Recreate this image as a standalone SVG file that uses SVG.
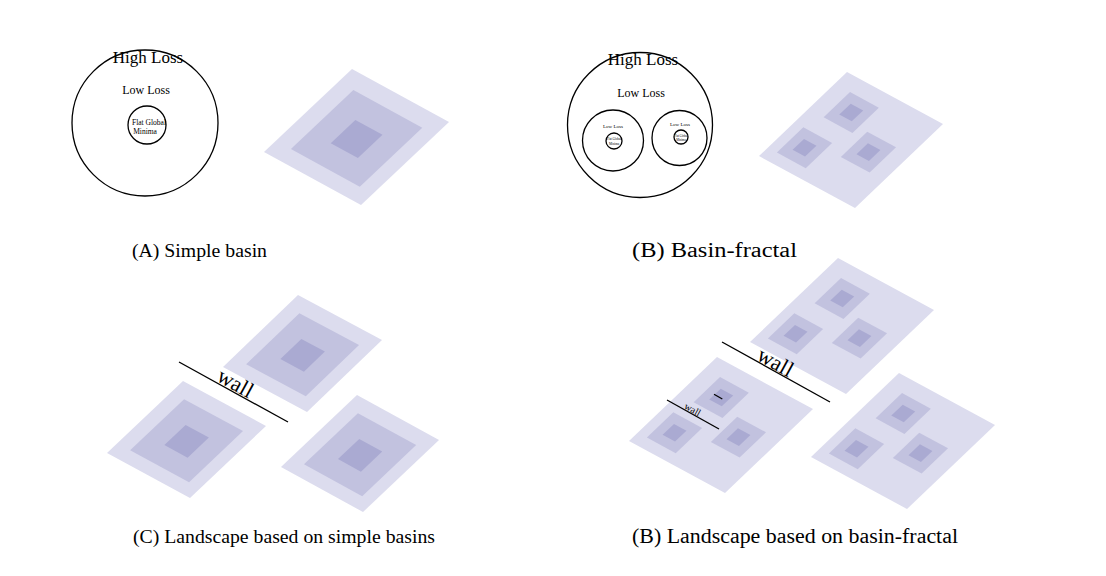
<svg xmlns="http://www.w3.org/2000/svg" xmlns:xlink="http://www.w3.org/1999/xlink" width="1106" height="576" viewBox="0 0 1106 576">
<style>
text{font-family:"Liberation Serif","Times New Roman",serif;fill:#000}
.c{text-anchor:middle}
.ring{fill:none;stroke:#000;stroke-width:1.3}
.wall{stroke:#000;stroke-width:1.3;fill:none}
.l1{fill:#dcdcee}
.l2{fill:#c2c2df}
.l3{fill:#aaaad2}
.cap{font-size:19.7px}
.capR{font-size:20.5px}
</style>
<defs>
<g id="simple">
<rect class="l1" x="0" y="0" width="100" height="100"/>
<rect class="l2" x="15.5" y="15.5" width="71" height="71"/>
<rect class="l3" x="37.5" y="37.5" width="28" height="28"/>
</g>
<g id="sub">
<rect class="l2" x="0" y="0" width="30" height="30"/>
<rect class="l3" x="8.5" y="8.5" width="13" height="13"/>
</g>
<g id="fractal">
<rect class="l1" x="0" y="0" width="100" height="100"/>
<use xlink:href="#sub" x="16" y="14"/>
<use xlink:href="#sub" x="9.5" y="60"/>
<use xlink:href="#sub" x="55" y="37"/>
</g>
</defs>

<g id="panelA">
<g id="circleA">
<circle class="ring" cx="145" cy="123" r="73"/>
<circle class="ring" cx="147" cy="125" r="19"/>
<text class="c" x="148" y="63" font-size="17">High Loss</text>
<text class="c" x="146" y="94" font-size="12">Low Loss</text>
<text class="c" x="149" y="125" font-size="7.5">Flat Global</text>
<text class="c" x="145" y="134" font-size="7.5">Minima</text>
</g>
<use id="basinA" xlink:href="#simple" transform="matrix(0.97 0.53 -0.88 0.83 352 69)"/>
<text id="capA" class="cap" x="132" y="257" textLength="135" lengthAdjust="spacingAndGlyphs">(A) Simple basin</text>
</g>

<g id="panelB">
<g id="circleB">
<circle class="ring" cx="640" cy="125" r="72.5"/>
<text class="c" x="643" y="65" font-size="17">High Loss</text>
<text class="c" x="641" y="97" font-size="12">Low Loss</text>
<circle class="ring" cx="613" cy="140.5" r="30.5"/>
<text class="c" x="613" y="128" font-size="5">Low Loss</text>
<circle class="ring" cx="614" cy="141" r="8"/>
<text class="c" x="614" y="140" font-size="3.2">Flat Global</text>
<text class="c" x="614" y="144.5" font-size="3.2">Minima</text>
<circle class="ring" cx="679.5" cy="138" r="27.5"/>
<text class="c" x="680" y="126" font-size="5">Low Loss</text>
<circle class="ring" cx="681" cy="137" r="7"/>
<text class="c" x="681" y="136.5" font-size="3">Flat Global</text>
<text class="c" x="681" y="140.5" font-size="3">Minima</text>
</g>
<use id="basinB" xlink:href="#fractal" transform="matrix(0.96 0.52 -0.88 0.84 847 72)"/>
<text id="capB" class="capR" x="632" y="257" textLength="165" lengthAdjust="spacingAndGlyphs">(B) Basin-fractal</text>
</g>

<g id="panelC">
<use id="basinC1" xlink:href="#simple" transform="matrix(0.84 0.45 -0.75 0.72 298 295)"/>
<use id="basinC2" xlink:href="#simple" transform="matrix(0.83 0.45 -0.76 0.72 183 381)"/>
<use id="basinC3" xlink:href="#simple" transform="matrix(0.82 0.45 -0.76 0.72 357 395)"/>
<text id="capC" class="cap" x="133" y="543" textLength="302" lengthAdjust="spacingAndGlyphs">(C) Landscape based on simple basins</text>
</g>

<g id="panelD">
<use id="basinD1" xlink:href="#fractal" transform="matrix(0.96 0.52 -0.88 0.84 838 258)"/>
<use id="basinD2" xlink:href="#fractal" transform="matrix(0.96 0.52 -0.88 0.84 717 357)"/>
<use id="basinD3" xlink:href="#fractal" transform="matrix(0.96 0.52 -0.88 0.84 899 373)"/>
<text id="capD" class="capR" x="632" y="543" textLength="326" lengthAdjust="spacingAndGlyphs">(B) Landscape based on basin-fractal</text>
</g>

<g id="walls">
<line class="wall" x1="179" y1="362" x2="288" y2="422"/>
<text font-size="22" class="c" transform="translate(232 389.5) rotate(29)">wall</text>
<line class="wall" x1="722" y1="342" x2="830" y2="402"/>
<text font-size="22" class="c" transform="translate(772 368.5) rotate(29)">wall</text>
<line class="wall" x1="667" y1="400" x2="719" y2="429" stroke-width="1"/>
<text font-size="10" class="c" transform="translate(691 412.5) rotate(29)">wall</text>
<line class="wall" x1="714" y1="394.3" x2="722.3" y2="399" stroke-width="1"/>
</g>
</svg>
